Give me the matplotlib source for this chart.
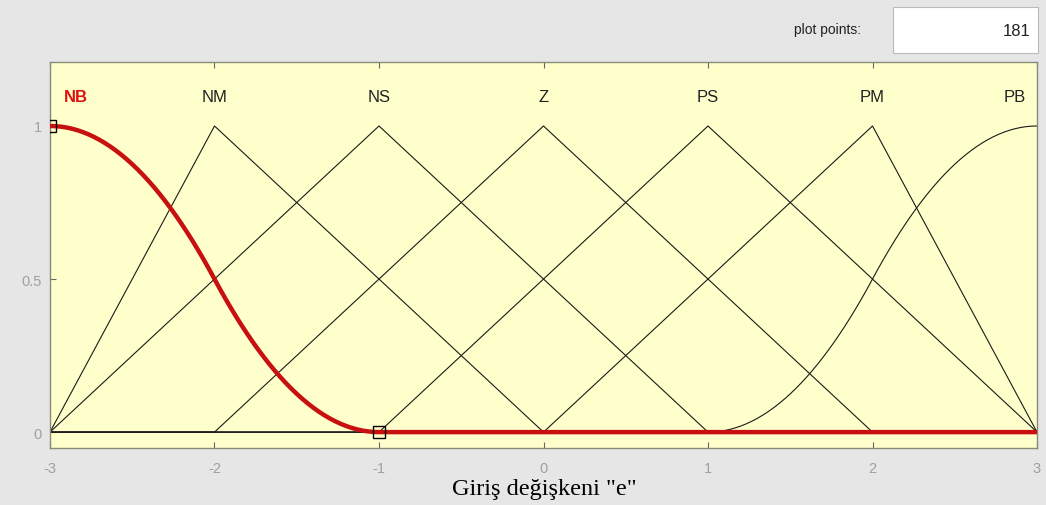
import matplotlib.pyplot as plt
import numpy as np

# membership functions of input "e"
mf_names = ["NB", "NM", "NS", "Z", "PS", "PM", "PB"]
mf_types = ["zmf", "trimf", "trimf", "trimf", "trimf", "trimf", "smf"]
mf_params = [[-3, -1], [-3, -2, 0], [-3, -1, 1], [-2, 0, 2], [-1, 1, 3], [0, 2, 3], [1, 3]]
label_x = [-2.84, -2, -1, 0, 1, 2, 2.866]
x_range = [-3, 3]
n_points = 181


def zmf(x, a, b):
    y = np.ones_like(x)
    m = (a + b) / 2
    i1 = (x > a) & (x <= m)
    i2 = (x > m) & (x <= b)
    y[i1] = 1 - 2 * ((x[i1] - a) / (b - a)) ** 2
    y[i2] = 2 * ((x[i2] - b) / (b - a)) ** 2
    y[x > b] = 0
    return y


def smf(x, a, b):
    return 1 - zmf(x, a, b)


def trimf(x, a, b, c):
    return np.interp(x, [a, b, c], [0, 1, 0], left=0, right=0)


funcs = {"zmf": zmf, "smf": smf, "trimf": trimf}

x = np.linspace(x_range[0], x_range[1], n_points)

fig = plt.figure(figsize=(10.46, 5.06), dpi=100)
fig.patch.set_facecolor("#e6e6e6")
ax = fig.add_axes([0.0478, 0.1126, 0.9436, 0.7629])
ax.set_facecolor("#ffffcc")

for i in range(1, len(mf_names)):
    y = funcs[mf_types[i]](x, *mf_params[i])
    ax.plot(x, y, color="#1a1a1a", linewidth=0.8, zorder=2)

# selected MF on top
y0 = funcs[mf_types[0]](x, *mf_params[0])
ax.plot(x, y0, color="#c81010", linewidth=3.2, zorder=3)
ax.plot([mf_params[0][0], mf_params[0][1]], [1, 0], linestyle="none", marker="s",
        markersize=8, markerfacecolor="none", markeredgecolor="black", markeredgewidth=1, zorder=4)

for i, name in enumerate(mf_names):
    if i == 0:
        ax.text(label_x[i], 1.096, name, color="#dd1111", fontsize=12, fontweight="bold",
                family="Liberation Sans", ha="center", va="center")
    else:
        ax.text(label_x[i], 1.096, name, color="#222222", fontsize=12,
                family="Liberation Sans", ha="center", va="center")

ax.set_xlim(-3, 3)
ax.set_ylim(-0.052, 1.209)
ax.set_xticks([-3, -2, -1, 0, 1, 2, 3])
ax.set_xticklabels(["-3", "-2", "-1", "0", "1", "2", "3"])
ax.set_yticks([0, 0.5, 1])
ax.set_yticklabels(["0", "0.5", "1"])
ax.tick_params(axis="x", direction="in", top=True, length=4, color="#666666",
               labelcolor="#a0a0a0", labelsize=10.5, pad=9)
ax.tick_params(axis="y", direction="in", length=4, color="#666666",
               labelcolor="#a0a0a0", labelsize=10.5, pad=6)
for lab in ax.get_xticklabels() + ax.get_yticklabels():
    lab.set_family("Liberation Sans")
for s in ax.spines.values():
    s.set_color("#8a8a7a")
    s.set_linewidth(1)

fig.text(0.52, 0.022, 'Giriş değişkeni "e"', family="Liberation Serif", fontsize=17.5,
         ha="center", va="baseline")

fig.text(0.791, 0.941, "plot points:", fontsize=10, family="Liberation Sans",
         ha="center", va="center", color="#222222")
box = plt.Rectangle((0.854, 0.893), 0.138, 0.091, transform=fig.transFigure,
                    facecolor="white", edgecolor="#bbbbbb", linewidth=0.8)
fig.patches.append(box)
fig.text(0.985, 0.937, "181", fontsize=12, family="Liberation Sans",
         ha="right", va="center", color="#222222")

plt.savefig("out.png", dpi=100)
